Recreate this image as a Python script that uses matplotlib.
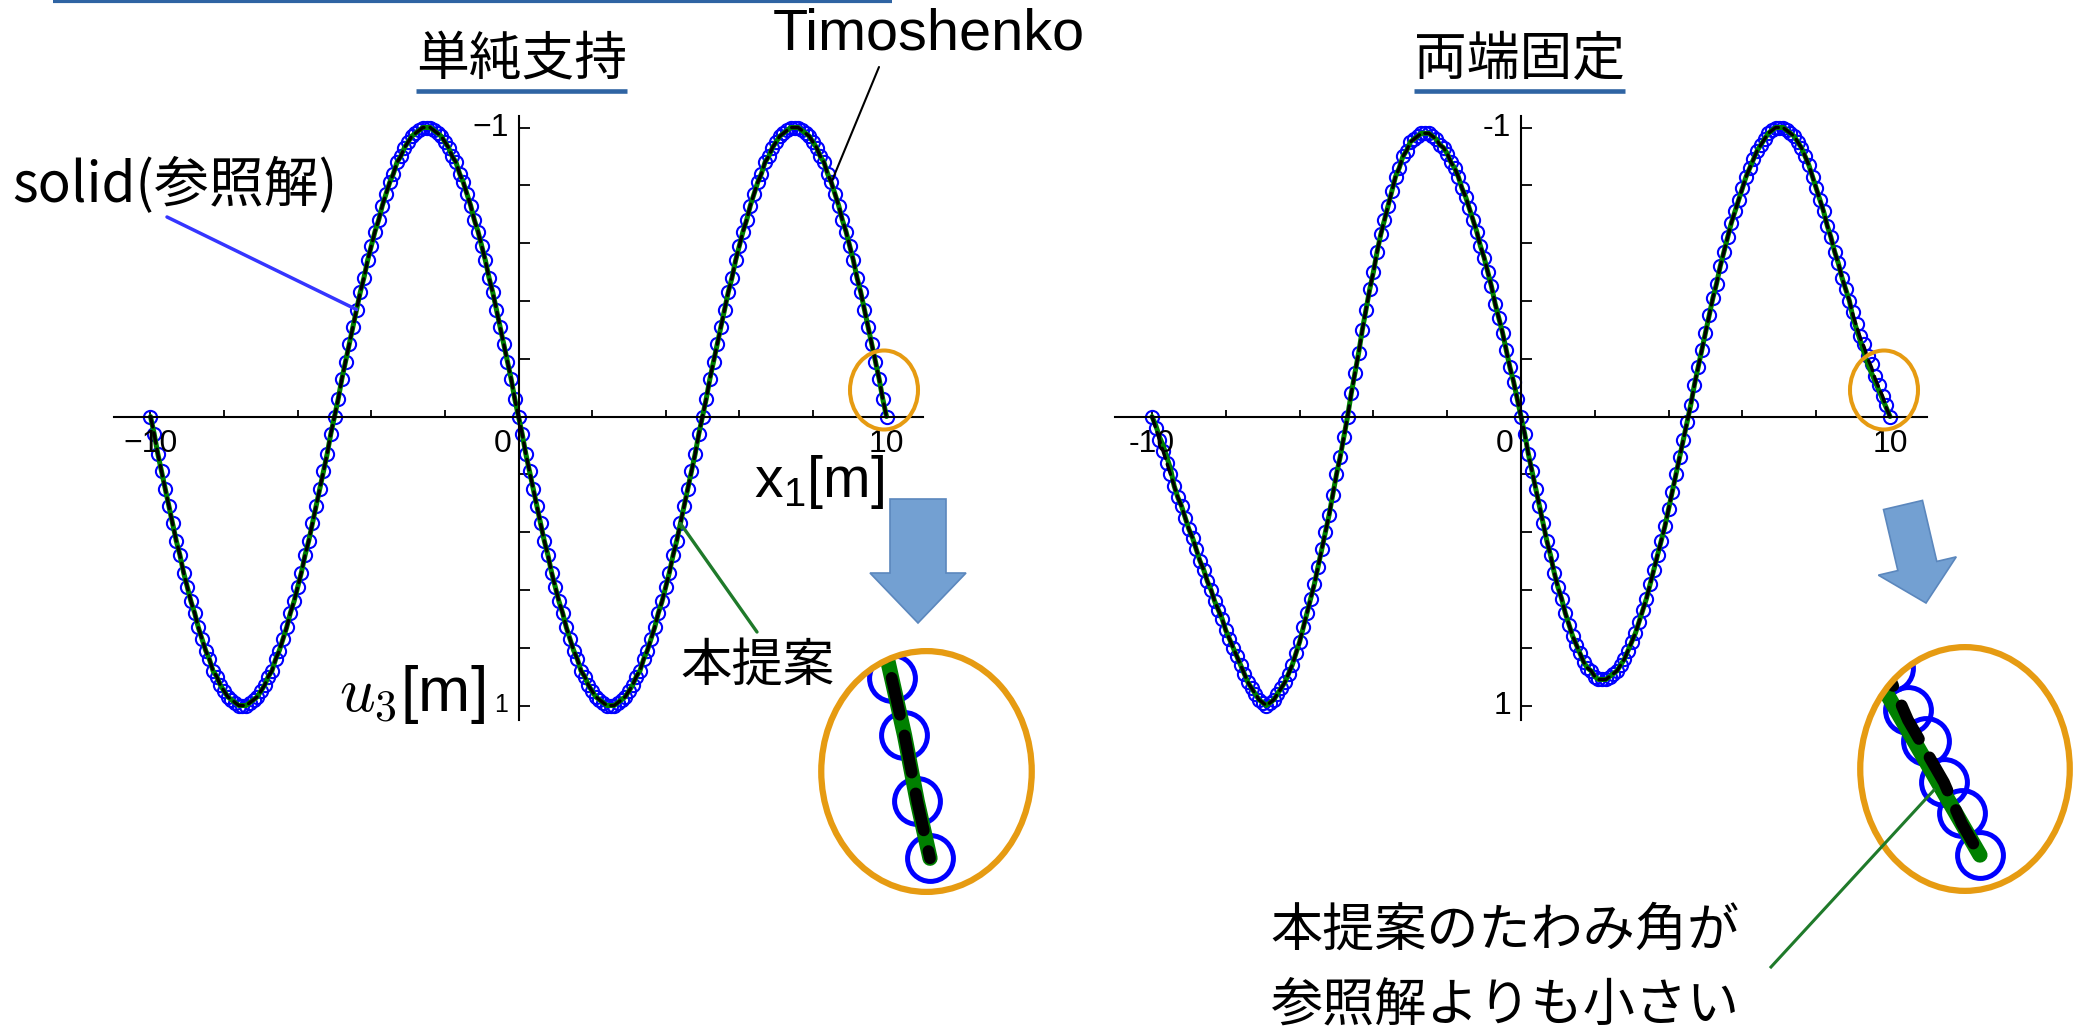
import numpy as np
import matplotlib.pyplot as plt
from matplotlib.patches import Ellipse, Polygon

plt.rcParams['font.family'] = ['Noto Sans CJK JP', 'DejaVu Sans']
plt.rcParams['mathtext.fontset'] = 'cm'

W, H = 2079, 1035

# sample points along the beam, x1 [m]
x1 = np.round(np.linspace(-10, 10, 201), 1)

# simply supported beam: u3 [m] (solid, Timoshenko and proposed overlap)
u_ss = [
    0.00, 0.06, 0.13, 0.19, 0.25, 0.31, 0.37, 0.43, 0.48, 0.54,
    0.59, 0.64, 0.68, 0.73, 0.77, 0.81, 0.84, 0.88, 0.90, 0.93,
    0.95, 0.97, 0.98, 0.99, 1.00, 1.00, 1.00, 0.99, 0.98, 0.97,
    0.95, 0.93, 0.90, 0.88, 0.84, 0.81, 0.77, 0.73, 0.68, 0.64,
    0.59, 0.54, 0.48, 0.43, 0.37, 0.31, 0.25, 0.19, 0.13, 0.06,
    0.00, -0.06, -0.13, -0.19, -0.25, -0.31, -0.37, -0.43, -0.48, -0.54,
    -0.59, -0.64, -0.68, -0.73, -0.77, -0.81, -0.84, -0.88, -0.90, -0.93,
    -0.95, -0.97, -0.98, -0.99, -1.00, -1.00, -1.00, -0.99, -0.98, -0.97,
    -0.95, -0.93, -0.90, -0.88, -0.84, -0.81, -0.77, -0.73, -0.68, -0.64,
    -0.59, -0.54, -0.48, -0.43, -0.37, -0.31, -0.25, -0.19, -0.13, -0.06,
    0.00, 0.06, 0.13, 0.19, 0.25, 0.31, 0.37, 0.43, 0.48, 0.54,
    0.59, 0.64, 0.68, 0.73, 0.77, 0.81, 0.84, 0.88, 0.90, 0.93,
    0.95, 0.97, 0.98, 0.99, 1.00, 1.00, 1.00, 0.99, 0.98, 0.97,
    0.95, 0.93, 0.90, 0.88, 0.84, 0.81, 0.77, 0.73, 0.68, 0.64,
    0.59, 0.54, 0.48, 0.43, 0.37, 0.31, 0.25, 0.19, 0.13, 0.06,
    0.00, -0.06, -0.13, -0.19, -0.25, -0.31, -0.37, -0.43, -0.48, -0.54,
    -0.59, -0.64, -0.68, -0.73, -0.77, -0.81, -0.84, -0.88, -0.90, -0.93,
    -0.95, -0.97, -0.98, -0.99, -1.00, -1.00, -1.00, -0.99, -0.98, -0.97,
    -0.95, -0.93, -0.90, -0.88, -0.84, -0.81, -0.77, -0.73, -0.68, -0.64,
    -0.59, -0.54, -0.48, -0.43, -0.37, -0.31, -0.25, -0.19, -0.13, -0.06,
    0.00,
]

# clamped-clamped beam: u3 [m] of the solid reference
u_cc = [
    0.00, 0.04, 0.08, 0.12, 0.16, 0.20, 0.24, 0.28, 0.31, 0.35,
    0.39, 0.42, 0.46, 0.50, 0.53, 0.57, 0.60, 0.64, 0.67, 0.70,
    0.74, 0.77, 0.80, 0.83, 0.86, 0.89, 0.92, 0.94, 0.96, 0.98,
    0.99, 1.00, 0.99, 0.98, 0.96, 0.94, 0.92, 0.89, 0.86, 0.82,
    0.78, 0.73, 0.68, 0.63, 0.58, 0.52, 0.46, 0.40, 0.34, 0.27,
    0.20, 0.14, 0.07, 0.00, -0.08, -0.15, -0.22, -0.30, -0.37, -0.44,
    -0.50, -0.57, -0.63, -0.68, -0.73, -0.78, -0.83, -0.86, -0.90, -0.92,
    -0.95, -0.96, -0.97, -0.98, -0.98, -0.98, -0.97, -0.96, -0.94, -0.93,
    -0.91, -0.88, -0.86, -0.83, -0.79, -0.76, -0.72, -0.68, -0.64, -0.59,
    -0.55, -0.50, -0.45, -0.39, -0.34, -0.29, -0.23, -0.17, -0.12, -0.06,
    0.00, 0.06, 0.13, 0.19, 0.25, 0.31, 0.37, 0.43, 0.48, 0.54,
    0.59, 0.63, 0.68, 0.72, 0.76, 0.79, 0.82, 0.85, 0.87, 0.88,
    0.90, 0.91, 0.91, 0.91, 0.90, 0.89, 0.88, 0.86, 0.84, 0.81,
    0.78, 0.75, 0.71, 0.67, 0.63, 0.58, 0.53, 0.48, 0.43, 0.38,
    0.32, 0.26, 0.20, 0.14, 0.08, 0.02, -0.04, -0.11, -0.17, -0.23,
    -0.29, -0.35, -0.41, -0.46, -0.52, -0.57, -0.62, -0.67, -0.71, -0.75,
    -0.79, -0.83, -0.86, -0.89, -0.92, -0.94, -0.96, -0.98, -0.99, -1.00,
    -1.00, -1.00, -0.99, -0.98, -0.97, -0.95, -0.93, -0.90, -0.87, -0.83,
    -0.79, -0.75, -0.71, -0.66, -0.62, -0.57, -0.53, -0.48, -0.44, -0.40,
    -0.36, -0.32, -0.28, -0.25, -0.21, -0.18, -0.14, -0.11, -0.07, -0.04,
    0.00,
]
# near the clamped ends the beam models separate
u_cc_timo_end = [-0.35, -0.31, -0.27, -0.24, -0.20, -0.17, -0.13, -0.10, -0.07, -0.03, 0.00]  # x1 = 9.0 .. 10.0
u_cc_prop_end = [-0.34, -0.30, -0.26, -0.22, -0.18, -0.15, -0.12, -0.09, -0.06, -0.03, 0.00]  # x1 = 9.0 .. 10.0
u_cc_prop_start = [0.00, 0.03, 0.07, 0.10, 0.14, 0.18]                                       # x1 = -10.0 .. -9.5

u_cc = np.array(u_cc)
u_cc_timo = u_cc.copy()
u_cc_timo[-11:] = u_cc_timo_end
u_cc_prop = u_cc.copy()
u_cc_prop[-11:] = u_cc_prop_end
u_cc_prop[:6] = u_cc_prop_start

BLUE = '#0000ff'
GREEN = '#008000'
ORANGE = '#e69b12'
NAVY = '#2f64a3'
LEADER_GREEN = '#1f7a2a'
TICK_SIZE = 23

fig = plt.figure(figsize=(W / 100, H / 100), dpi=100)
fig.patch.set_facecolor('white')


def curves(ax, u_ref, u_timo, u_prop, ms, mew, lw_g, lw_k, clip=None):
    arts = ax.plot(x1, u_ref, 'o', ms=ms, mfc='none', mec=BLUE, mew=mew)
    arts += ax.plot(x1, u_prop, color=GREEN, lw=lw_g, solid_capstyle='round')
    arts += ax.plot(x1, u_timo, color='black', lw=lw_k, dashes=(3.2, 1.8),
                    dash_capstyle='round')
    if clip is not None:
        for a in arts:
            a.set_clip_path(clip)
    return arts


def tick_label(ax, x, y, s, dx, dy, ha, va, size=TICK_SIZE):
    ax.annotate(s, xy=(x, y), xytext=(dx, dy), textcoords='offset pixels',
                ha=ha, va=va, fontsize=size, family='Liberation Sans',
                annotation_clip=False)


def beam_axes(x0, y0, sx, sy, minus, one_size=TICK_SIZE):
    # x0, y0: pixel position of the origin, sx, sy: pixels per unit
    left, right = x0 - 11 * sx, x0 + 11 * sx
    top, bottom = y0 - 1.04 * sy, y0 + 1.05 * sy
    ax = fig.add_axes([left / W, 1 - bottom / H, (right - left) / W, (bottom - top) / H])
    ax.set_xlim(-11, 11)
    ax.set_ylim(1.05, -1.04)
    ax.patch.set_alpha(0)
    for side in ('top', 'right'):
        ax.spines[side].set_visible(False)
    for side in ('left', 'bottom'):
        ax.spines[side].set_position(('data', 0))
        ax.spines[side].set_linewidth(1.5)
    ax.set_xticks(np.arange(-10, 11, 2))
    ax.set_yticks(np.round(np.linspace(-1, 1, 11), 1))
    ax.tick_params(axis='x', direction='in', length=5, width=1.3, labelbottom=False)
    ax.tick_params(axis='y', direction='in', length=8, width=1.3, labelleft=False)
    # Mathematica-style labels: only the ends and the origin are numbered
    tick_label(ax, -10, 0, minus + '10', 0, -13, 'center', 'top')
    tick_label(ax, 0, 0, '0', -16, -13, 'center', 'top')
    tick_label(ax, 10, 0, '10', 0, -13, 'center', 'top')
    tick_label(ax, 0, -1, minus + '1', -10, 0, 'right', 'center')
    tick_label(ax, 0, 1, '1', -10, 0, 'right', 'center', one_size)
    return ax


ax_l = beam_axes(518.5, 416.5, 36.8, 289, '\u2212', one_size=18)
curves(ax_l, u_ss, u_ss, u_ss, ms=9.5, mew=1.5, lw_g=3.6, lw_k=2.4)

ax_r = beam_axes(1521, 416.5, 36.9, 289, '-')
curves(ax_r, u_cc, u_cc_timo, u_cc_prop, ms=9.5, mew=1.5, lw_g=3.6, lw_k=2.4)

# overlay in pixel coordinates for titles, notes and arrows
ov = fig.add_axes([0, 0, 1, 1], zorder=10)
ov.set_xlim(0, W)
ov.set_ylim(H, 0)
ov.axis('off')

ov.plot([53, 892], [1, 1], color=NAVY, lw=3, solid_capstyle='butt')
for label, cx in (('単純支持', 521.5), ('両端固定', 1519.6)):
    ov.text(cx, 60, label, fontsize=38, ha='center', va='center')
    ov.plot([cx - 105.5, cx + 105.5], [91, 91], color=NAVY, lw=3.3, solid_capstyle='butt')

ov.text(773, 50, 'Timoshenko', fontsize=41.5, family='Liberation Sans', va='baseline')
ov.text(12, 202, 'solid(参照解)', fontsize=39.5, va='baseline')
ov.text(884, 497, r'$\mathregular{x_1[m]}$', fontsize=41, family='Liberation Sans',
        ha='right', va='baseline')
ov.text(485, 711, r'$u_3$[m]', fontsize=45, family='Liberation Sans', ha='right', va='baseline')
ov.text(835, 666, '本提案', fontsize=37, ha='right', va='center')
ov.text(1270, 931, '本提案のたわみ角が', fontsize=37.5, va='center')
ov.text(1270, 1006, '参照解よりも小さい', fontsize=37.5, va='center')


def leader(ax, i, u, start, color, lw):
    ov.annotate('', xy=(x1[i], u[i]), xycoords=ax.transData, xytext=start,
                textcoords='data',
                arrowprops=dict(arrowstyle='-', color=color, lw=lw, shrinkA=0, shrinkB=0))


leader(ax_l, 56, u_ss, (167, 217), '#3535ff', 2.5)
leader(ax_l, 185, u_ss, (879, 67), 'black', 1.5)
leader(ax_l, 144, u_ss, (757, 632), LEADER_GREEN, 2.4)

# marks around the beam end that is magnified below
for cx in (884, 1884):
    ov.add_patch(Ellipse((cx, 390), 68, 79, fc='none', ec=ORANGE, lw=2.9))


def block_arrow(tail, tip, shaft_w, head_w, head_len):
    tail = np.array(tail, float)
    tip = np.array(tip, float)
    d = (tip - tail) / np.hypot(*(tip - tail))
    n = np.array([-d[1], d[0]])
    neck = tip - head_len * d
    pts = [tail + n * shaft_w / 2, neck + n * shaft_w / 2, neck + n * head_w / 2, tip,
           neck - n * head_w / 2, neck - n * shaft_w / 2, tail - n * shaft_w / 2]
    ov.add_patch(Polygon(pts, closed=True, fc='#73a0d2', ec='#5b87bd', lw=1.2))


block_arrow((918, 499), (918, 623), 56, 96, 50)
block_arrow((1903, 505), (1926, 603), 40, 80, 38)


def zoom_inset(bbox, xlim, ylim, u_ref, u_timo, u_prop):
    l, t, r, b = bbox
    axi = fig.add_axes([l / W, 1 - b / H, (r - l) / W, (b - t) / H], zorder=5)
    axi.set_xlim(xlim)
    axi.set_ylim(ylim)
    axi.axis('off')
    bg = Ellipse((0.5, 0.5), 0.97, 0.975, transform=axi.transAxes, fc='white', ec='none')
    axi.add_patch(bg)
    curves(axi, u_ref, u_timo, u_prop, ms=33, mew=3.6, lw_g=11, lw_k=8.5, clip=bg)
    axi.add_patch(Ellipse((0.5, 0.5), 0.97, 0.975, transform=axi.transAxes,
                          fc='none', ec=ORANGE, lw=4.5, zorder=10))
    return axi


zoom_inset((818, 648, 1035, 895), (9.123, 10.822), (0.0388, -0.2218), u_ss, u_ss, u_ss)
zoom_inset((1857, 644, 2073, 894), (9.317, 10.517), (0.0375, -0.2031),
           u_cc, u_cc_timo, u_cc_prop)

ov.plot([1771, 1934], [967, 790], color=LEADER_GREEN, lw=2.2)

fig.savefig('out.png', dpi=100, facecolor='white')
